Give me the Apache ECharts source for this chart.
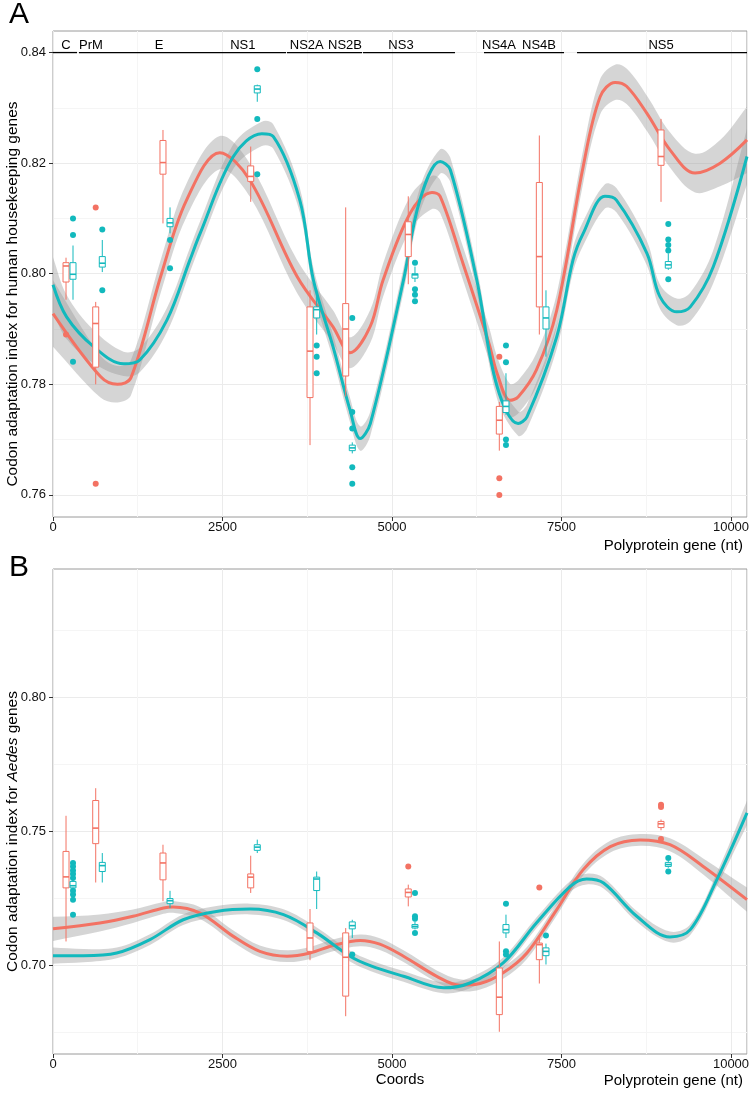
<!DOCTYPE html>
<html>
<head>
<meta charset="utf-8">
<script src="https://cdn.jsdelivr.net/npm/echarts@6/dist/echarts.min.js"></script>
<style>html,body{margin:0;padding:0;background:#fff}#main{width:750px;height:1093px}</style>
</head>
<body>
<div id="main"></div>
<script>
var myChart = echarts.init(document.getElementById('main'));

var RED = '#F37263', CYAN = '#12B9BD';
var FONT = '"Liberation Sans", Arial, sans-serif';

// gene regions (top of panel A)
var geneNames = ['C', 'PrM', 'E', 'NS1', 'NS2A', 'NS2B', 'NS3', 'NS4A', 'NS4B', 'NS5'];
var geneLabelX = [190, 560, 1563, 2800, 3743, 4307, 5133, 6578, 7168, 8968];
var segStart = [0, 383, 3451, 4572, 6357, 7729];
var segEnd = [354, 3437, 4558, 5929, 7537, 10236];
var geneBarY = 0.84;

// box positions along the polyprotein
var redPos = [192, 630, 1622, 2916, 3791, 4317, 5240, 6583, 7173, 8968];
var cyanPos = [295, 727, 1726, 3013, 3889, 4414, 5339, 6681, 7271, 9075];

// panel A boxes: [low, q1, median, q3, high]
var boxRedA = [
  [0.7953, 0.7985, 0.8014, 0.8020, 0.8029],
  [0.7800, 0.7831, 0.7910, 0.7940, 0.7949],
  [0.8091, 0.8180, 0.8201, 0.8241, 0.8260],
  [0.8130, 0.8167, 0.8176, 0.8195, 0.8230],
  [0.7690, 0.7776, 0.7860, 0.7940, 0.7970],
  [0.7778, 0.7815, 0.7900, 0.7946, 0.8120],
  [0.7981, 0.8031, 0.8071, 0.8094, 0.8140],
  [0.7680, 0.7710, 0.7735, 0.7760, 0.7768],
  [0.7890, 0.7940, 0.8031, 0.8165, 0.8250],
  [0.8130, 0.8196, 0.8212, 0.8260, 0.8280]
];
var boxCyanA = [
  [0.7953, 0.7990, 0.7999, 0.8020, 0.8051],
  [0.8003, 0.8012, 0.8019, 0.8031, 0.8061],
  [0.8073, 0.8085, 0.8092, 0.8100, 0.8120],
  [0.8311, 0.8327, 0.8334, 0.8340, 0.8342],
  [0.7890, 0.7920, 0.7935, 0.7940, 0.7970],
  [0.7675, 0.7680, 0.7685, 0.7690, 0.7695],
  [0.7985, 0.7992, 0.7998, 0.8000, 0.8013],
  [0.7745, 0.7749, 0.7760, 0.7770, 0.7820],
  [0.7850, 0.7900, 0.7920, 0.7940, 0.7970],
  [0.8007, 0.8010, 0.8016, 0.8022, 0.8037]
];
var outRedA = [[192, 0.789], [630, 0.812], [630, 0.762], [6583, 0.785], [6583, 0.763], [6583, 0.760]];
var outCyanA = [
  [295, 0.810], [295, 0.807], [295, 0.7841], [727, 0.808], [727, 0.797],
  [1726, 0.8061], [1726, 0.801], [3013, 0.837], [3013, 0.828], [3013, 0.818],
  [3889, 0.787], [3889, 0.785], [3889, 0.782],
  [4414, 0.792], [4414, 0.775], [4414, 0.772], [4414, 0.765], [4414, 0.762],
  [5339, 0.802], [5339, 0.7972], [5339, 0.7962], [5339, 0.795],
  [6681, 0.787], [6681, 0.784], [6681, 0.770], [6681, 0.769],
  [9075, 0.809], [9075, 0.8062], [9075, 0.8052], [9075, 0.8042], [9075, 0.799]
];

// panel A smooth fits (value and half-width of the grey band)
var fitRedAx = [0, 700, 950, 1150, 1600, 1970, 2460, 2900, 3600, 4130, 4380, 4680, 4870, 5270, 5590, 5710,
  6030, 6430, 6550, 6740, 6860, 7130, 7430, 7820, 8070, 8290, 8460, 8760, 9100, 9470, 9840, 10236];
var fitRedAy = [0.7928, 0.7814, 0.7800, 0.7812, 0.8000, 0.8133, 0.8219, 0.8170, 0.7995, 0.7904, 0.7857, 0.7905, 0.7989, 0.8110, 0.8147, 0.8140,
  0.8025, 0.7874, 0.7820, 0.7771, 0.7777, 0.7826, 0.7934, 0.8194, 0.8320, 0.8346, 0.8339, 0.8290, 0.8224, 0.8182, 0.8200, 0.8242];
var fitRedAse = [0.006, 0.0038, 0.0033, 0.0032, 0.003, 0.003, 0.003, 0.003, 0.003, 0.003, 0.0028, 0.003, 0.003, 0.003, 0.003, 0.003,
  0.003, 0.003, 0.003, 0.003, 0.003, 0.003, 0.003, 0.003, 0.0032, 0.0032, 0.0032, 0.0032, 0.0032, 0.0035, 0.0042, 0.006];
var fitCyanAx = [0, 200, 600, 1040, 1280, 1680, 2020, 2170, 2660, 3080, 3250, 3640, 3840, 4130, 4380, 4530, 4680, 5170,
  5410, 5710, 5860, 6250, 6550, 6860, 6990, 7430, 7670, 7820, 8140, 8310, 8760, 8950, 9200, 9400, 9740, 10236];
var fitCyanAy = [0.7980, 0.7922, 0.7868, 0.7837, 0.7844, 0.7916, 0.8025, 0.8073, 0.8212, 0.8253, 0.8248, 0.8133, 0.7989, 0.7868, 0.7754, 0.7702, 0.7729, 0.7989,
  0.8133, 0.8203, 0.8188, 0.7989, 0.7796, 0.7729, 0.7741, 0.7886, 0.8025, 0.8073, 0.8140, 0.8133, 0.8037, 0.7959, 0.7931, 0.7940, 0.8013, 0.8212];
var fitCyanAse = [0.005, 0.004, 0.003, 0.0022, 0.0022, 0.0022, 0.0022, 0.0022, 0.0022, 0.0022, 0.0022, 0.0022, 0.0022, 0.0022, 0.0022, 0.0022, 0.0022, 0.0022,
  0.0022, 0.0022, 0.0022, 0.0022, 0.0022, 0.0022, 0.0022, 0.0022, 0.0022, 0.0022, 0.0022, 0.0022, 0.0022, 0.0022, 0.0024, 0.0026, 0.003, 0.005];

// panel B boxes
var boxRedB = [
  [0.7090, 0.7290, 0.7331, 0.7426, 0.7559],
  [0.7310, 0.7455, 0.7513, 0.7616, 0.7662],
  [0.7240, 0.7320, 0.7383, 0.7420, 0.7451],
  [0.7271, 0.7290, 0.7330, 0.7342, 0.7410],
  [0.7020, 0.7053, 0.7103, 0.7159, 0.7211],
  [0.6811, 0.6886, 0.7031, 0.7122, 0.7140],
  [0.7221, 0.7256, 0.7273, 0.7286, 0.7302],
  [0.6753, 0.6817, 0.6882, 0.6991, 0.7090],
  [0.6933, 0.7022, 0.7078, 0.7084, 0.7109],
  [0.7505, 0.7515, 0.7529, 0.7538, 0.7545]
];
var boxCyanB = [
  [0.7285, 0.7290, 0.7298, 0.7314, 0.7320],
  [0.7310, 0.7351, 0.7373, 0.7385, 0.7420],
  [0.7215, 0.7231, 0.7242, 0.7250, 0.7279],
  [0.7420, 0.7430, 0.7442, 0.7451, 0.7470],
  [0.7211, 0.7280, 0.7323, 0.7330, 0.7351],
  [0.7103, 0.7137, 0.7149, 0.7163, 0.7171],
  [0.7135, 0.7140, 0.7146, 0.7153, 0.7164],
  [0.7103, 0.7122, 0.7134, 0.7153, 0.7190],
  [0.7004, 0.7037, 0.7053, 0.7066, 0.7082],
  [0.7365, 0.7370, 0.7377, 0.7385, 0.7390]
];
var outRedB = [[5240, 0.737], [7173, 0.7291], [8968, 0.7600], [8968, 0.7592], [8968, 0.7472]];
var outCyanB = [
  [295, 0.7383], [295, 0.7370], [295, 0.7355], [295, 0.7342], [295, 0.7327], [295, 0.7279], [295, 0.7265], [295, 0.7246], [295, 0.7190],
  [4414, 0.7041], [5339, 0.7271], [5339, 0.7184], [5339, 0.7175], [5339, 0.7122],
  [6681, 0.7231], [6681, 0.7053], [6681, 0.7041], [7271, 0.7112], [9075, 0.7401], [9075, 0.7351]
];

// panel B smooth fits
var fitRedBx = [0, 690, 1180, 1630, 1770, 2170, 2660, 3050, 3450, 3790, 4130, 4530, 4820, 5170, 5660, 6000, 6300,
  6640, 6990, 7430, 7820, 8220, 8660, 9100, 9590, 10236];
var fitRedBy = [0.7137, 0.7159, 0.7184, 0.7215, 0.7219, 0.7196, 0.7109, 0.7053, 0.7035, 0.7047, 0.7075, 0.7094, 0.7080, 0.7035, 0.6960, 0.6927, 0.6933,
  0.6973, 0.7047, 0.7209, 0.7358, 0.7444, 0.7469, 0.7451, 0.7370, 0.7246];
var fitRedBse = [0.0045, 0.0032, 0.0025, 0.0022, 0.0022, 0.0022, 0.0022, 0.0022, 0.0022, 0.0022, 0.0022, 0.0022, 0.0022, 0.0022, 0.0022, 0.0022, 0.0022,
  0.0022, 0.0022, 0.0022, 0.0022, 0.0022, 0.0022, 0.0024, 0.003, 0.0045];
var fitCyanBx = [0, 450, 940, 1430, 1920, 2410, 2910, 3400, 3890, 4380, 4680, 5170, 5760, 6150, 6640, 7130, 7630, 7870,
  8120, 8610, 9100, 9400, 9790, 10236];
var fitCyanBy = [0.7037, 0.7037, 0.7047, 0.7097, 0.7171, 0.7202, 0.7211, 0.7190, 0.7122, 0.7035, 0.7000, 0.6960, 0.6917, 0.6935, 0.7010, 0.7159, 0.7296, 0.7323,
  0.7308, 0.7184, 0.7107, 0.7134, 0.7320, 0.7570];
var fitCyanBse = [0.003, 0.0025, 0.002, 0.002, 0.002, 0.002, 0.002, 0.002, 0.002, 0.002, 0.002, 0.002, 0.002, 0.002, 0.002, 0.002, 0.002, 0.002,
  0.002, 0.002, 0.002, 0.002, 0.0025, 0.0045];

var yTicksA = [0.76, 0.78, 0.80, 0.82, 0.84];
var yMinorA = [0.77, 0.79, 0.81, 0.83];
var yTicksB = [0.70, 0.75, 0.80];
var yMinorB = [0.675, 0.725, 0.775, 0.825];

var SMOOTH = 0.35;

function pairs(xs, ys) { return xs.map(function (x, i) { return [x, ys[i]]; }); }
function boxData(pos, stats) { return pos.map(function (p, i) { return [p].concat(stats[i]); }); }

function renderBox(params, api) {
  var x = api.value(0);
  var lo = api.coord([x, api.value(1)]);
  var q1 = api.coord([x, api.value(2)]);
  var md = api.coord([x, api.value(3)]);
  var q3 = api.coord([x, api.value(4)]);
  var hi = api.coord([x, api.value(5)]);
  var w = 6;
  var c = api.visual('color');
  return {
    type: 'group',
    children: [
      { type: 'line', shape: { x1: lo[0], y1: lo[1], x2: q1[0], y2: q1[1] }, style: { stroke: c, lineWidth: 1 } },
      { type: 'line', shape: { x1: q3[0], y1: q3[1], x2: hi[0], y2: hi[1] }, style: { stroke: c, lineWidth: 1 } },
      { type: 'rect', shape: { x: q3[0] - w / 2, y: q3[1], width: w, height: q1[1] - q3[1] }, style: { fill: '#fff', stroke: c, lineWidth: 1 } },
      { type: 'line', shape: { x1: md[0] - w / 2, y1: md[1], x2: md[0] + w / 2, y2: md[1] }, style: { stroke: c, lineWidth: 1.6 } }
    ]
  };
}

var series = [];
function addFit(idx, xs, ys, se, color) {
  // grey confidence band; end points doubled so the smoothed outline keeps square ends
  series.push({
    type: 'custom', xAxisIndex: idx, yAxisIndex: idx * 2, z: 1, silent: true, clip: true,
    encode: { x: 0, y: 1 },
    data: [[xs[0], ys[0]]],
    renderItem: function (params, api) {
      var up = xs.map(function (x, i) { return api.coord([x, ys[i] + se[i]]); });
      var lo = xs.map(function (x, i) { return api.coord([x, ys[i] - se[i]]); }).reverse();
      var pts = [up[0]].concat(up, [up[up.length - 1]], [lo[0]], lo, [lo[lo.length - 1]]);
      return {
        type: 'polygon',
        shape: { points: pts, smooth: SMOOTH },
        style: { fill: 'rgba(150,150,150,0.4)' }
      };
    }
  });
  series.push({
    type: 'line', xAxisIndex: idx, yAxisIndex: idx * 2, smooth: SMOOTH, showSymbol: false, silent: true, z: 2,
    lineStyle: { color: color, width: 3 },
    data: pairs(xs, ys)
  });
}
function addBoxes(idx, pos, stats, color) {
  series.push({
    type: 'custom', xAxisIndex: idx, yAxisIndex: idx * 2, z: 3, silent: true,
    itemStyle: { color: color },
    encode: { x: 0, y: [1, 2, 3, 4, 5] },
    renderItem: renderBox,
    data: boxData(pos, stats)
  });
}
function addPoints(idx, pts, color) {
  series.push({
    type: 'scatter', xAxisIndex: idx, yAxisIndex: idx * 2, z: 4, silent: true,
    symbolSize: 6, itemStyle: { color: color, opacity: 1 },
    data: pts
  });
}

addFit(0, fitRedAx, fitRedAy, fitRedAse, RED);
addFit(0, fitCyanAx, fitCyanAy, fitCyanAse, CYAN);
addFit(1, fitRedBx, fitRedBy, fitRedBse, RED);
addFit(1, fitCyanBx, fitCyanBy, fitCyanBse, CYAN);
addBoxes(0, redPos, boxRedA, RED);
addBoxes(0, cyanPos, boxCyanA, CYAN);
addBoxes(1, redPos, boxRedB, RED);
addBoxes(1, cyanPos, boxCyanB, CYAN);
addPoints(0, outRedA, RED);
addPoints(0, outCyanA, CYAN);
addPoints(1, outRedB, RED);
addPoints(1, outCyanB, CYAN);

// gene annotation bar
series.push({
  type: 'custom', xAxisIndex: 0, yAxisIndex: 0, z: 5, silent: true,
  encode: { x: [0, 1] },
  renderItem: function (params, api) {
    var p1 = api.coord([api.value(0), geneBarY]);
    var p2 = api.coord([api.value(1), geneBarY]);
    return { type: 'line', shape: { x1: p1[0], y1: p1[1], x2: p2[0], y2: p2[1] }, style: { stroke: '#000', lineWidth: 1.3 } };
  },
  data: segStart.map(function (s, i) { return [s, segEnd[i]]; })
});
series.push({
  type: 'custom', xAxisIndex: 0, yAxisIndex: 0, z: 5, silent: true,
  encode: { x: 0 },
  renderItem: function (params, api) {
    var p = api.coord([api.value(0), geneBarY]);
    return { type: 'text', x: p[0], y: p[1] - 1, style: { text: geneNames[params.dataIndex], font: '13px ' + FONT, fill: '#000', align: 'center', verticalAlign: 'bottom' } };
  },
  data: geneLabelX.map(function (x) { return [x]; })
});

function xAxisCfg(idx, name) {
  return {
    gridIndex: idx, type: 'value', min: 0, max: 10236, interval: 2500,
    name: name, nameLocation: 'middle', nameGap: 18, nameMoveOverlap: false,
    nameTextStyle: { fontFamily: FONT, fontSize: 15, color: '#000' },
    axisLine: { show: false },
    axisTick: { show: true, length: 4, lineStyle: { color: '#333' } },
    axisLabel: { margin: 4, fontFamily: FONT, fontSize: 13, color: '#111', showMaxLabel: false, hideOverlap: false,
      formatter: function (v) { return String(v); } },
    splitLine: { show: true, lineStyle: { color: '#ebebeb', width: 1 } },
    minorTick: { show: false, splitNumber: 2 },
    minorSplitLine: { show: true, lineStyle: { color: '#f5f5f5', width: 1 } }
  };
}
function yAxisCfg(idx, min, max, ticks, name, rich) {
  return {
    gridIndex: idx, type: 'value', min: min, max: max,
    name: name, nameLocation: 'middle', nameGap: 32, nameRotate: 90, nameMoveOverlap: false,
    nameTextStyle: { fontFamily: FONT, fontSize: 15.5, color: '#000', padding: [0, 40, 0, 0], rich: rich },
    axisLine: { show: false },
    axisTick: { show: true, length: 4, customValues: ticks, lineStyle: { color: '#333' } },
    axisLabel: { margin: 7, customValues: ticks, fontFamily: FONT, fontSize: 13, color: '#111',
      formatter: function (v) { return v.toFixed(2); } },
    splitLine: { show: true, lineStyle: { color: '#ebebeb', width: 1 } }
  };
}
function yMinorCfg(idx, min, max, ticks) {
  return {
    gridIndex: idx, type: 'value', min: min, max: max, position: 'left',
    axisLine: { show: false },
    axisTick: { show: false, customValues: ticks },
    axisLabel: { show: false, customValues: ticks },
    splitLine: { show: true, lineStyle: { color: '#f5f5f5', width: 1 } }
  };
}

var richB = {
  n: { fontFamily: FONT, fontSize: 15.5, color: '#000' },
  i: { fontFamily: FONT, fontSize: 15.5, color: '#000', fontStyle: 'italic' }
};

var option = {
  backgroundColor: '#fff',
  animation: false,
  grid: [
    { left: 53, top: 31, width: 694, height: 486, outerBoundsMode: 'none', show: true, borderColor: '#9a9a9a', borderWidth: 1, backgroundColor: 'transparent' },
    { left: 53, top: 569, width: 694, height: 485, outerBoundsMode: 'none', show: true, borderColor: '#9a9a9a', borderWidth: 1, backgroundColor: 'transparent' }
  ],
  xAxis: [xAxisCfg(0, ''), xAxisCfg(1, 'Coords')],
  yAxis: [
    yAxisCfg(0, 0.756, 0.8439, yTicksA, 'Codon adaptation index for human housekeeping genes'),
    yMinorCfg(0, 0.756, 0.8439, yMinorA),
    yAxisCfg(1, 0.667, 0.848, yTicksB, '{n|Codon adaptation index for }{i|Aedes}{n| genes}', richB),
    yMinorCfg(1, 0.667, 0.848, yMinorB)
  ],
  graphic: [
    { type: 'text', left: 9, top: 0, style: { text: 'A', font: '30px ' + FONT, fill: '#000' } },
    { type: 'text', left: 9, top: 553, style: { text: 'B', font: '30px ' + FONT, fill: '#000' } },
    { type: 'text', right: 7, top: 538, style: { text: 'Polyprotein gene (nt)', font: '15px ' + FONT, fill: '#000' } },
    { type: 'text', right: 7, top: 1073, style: { text: 'Polyprotein gene (nt)', font: '15px ' + FONT, fill: '#000' } }
  ],
  series: series
};

myChart.setOption(option);
</script>
</body>
</html>
